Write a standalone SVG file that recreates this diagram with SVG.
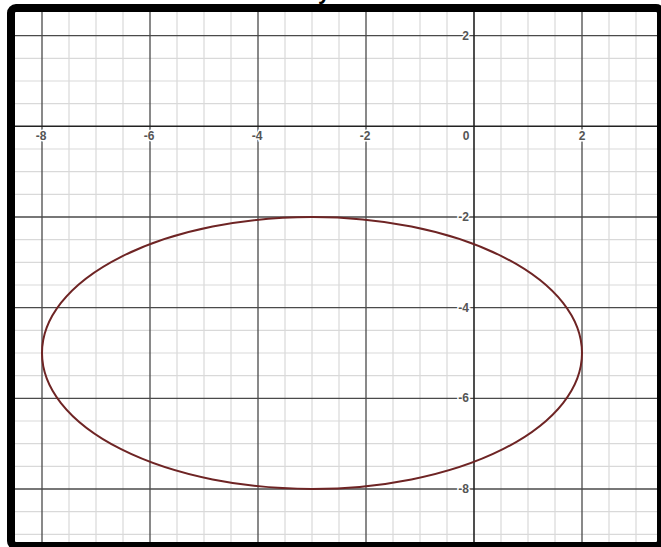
<svg xmlns="http://www.w3.org/2000/svg" width="661" height="547" viewBox="0 0 661 547">
<style>
.minor{stroke:#d9d9d9;stroke-width:1.2}
.major{stroke:#4a4a4a;stroke-width:1.3}
.axis{stroke:#222;stroke-width:1.6}
.lbl{font-family:"Liberation Sans",Arial,sans-serif;font-size:12px;font-weight:bold;fill:#555;stroke:#fff;stroke-width:3;paint-order:stroke}
</style>
<rect x="0" y="0" width="661" height="547" fill="#fff"/>
<text x="318" y="-1" font-family="Liberation Sans,Arial,sans-serif" font-weight="bold" font-size="22" fill="#000">y</text>
<g id="grid">
<g class="minor">
<line x1="69" y1="12" x2="69" y2="542"/><line x1="96" y1="12" x2="96" y2="542"/><line x1="123" y1="12" x2="123" y2="542"/>
<line x1="177" y1="12" x2="177" y2="542"/><line x1="204" y1="12" x2="204" y2="542"/><line x1="231" y1="12" x2="231" y2="542"/>
<line x1="285" y1="12" x2="285" y2="542"/><line x1="312" y1="12" x2="312" y2="542"/><line x1="339" y1="12" x2="339" y2="542"/>
<line x1="393" y1="12" x2="393" y2="542"/><line x1="420" y1="12" x2="420" y2="542"/><line x1="447" y1="12" x2="447" y2="542"/>
<line x1="501" y1="12" x2="501" y2="542"/><line x1="528" y1="12" x2="528" y2="542"/><line x1="555" y1="12" x2="555" y2="542"/>
<line x1="609" y1="12" x2="609" y2="542"/><line x1="636" y1="12" x2="636" y2="542"/>
<line x1="15" y1="58.3" x2="657" y2="58.3"/><line x1="15" y1="81" x2="657" y2="81"/><line x1="15" y1="103.7" x2="657" y2="103.7"/>
<line x1="15" y1="149" x2="657" y2="149"/><line x1="15" y1="171.7" x2="657" y2="171.7"/><line x1="15" y1="194.3" x2="657" y2="194.3"/>
<line x1="15" y1="239.7" x2="657" y2="239.7"/><line x1="15" y1="262.3" x2="657" y2="262.3"/><line x1="15" y1="285" x2="657" y2="285"/>
<line x1="15" y1="330.3" x2="657" y2="330.3"/><line x1="15" y1="353" x2="657" y2="353"/><line x1="15" y1="375.7" x2="657" y2="375.7"/>
<line x1="15" y1="421" x2="657" y2="421"/><line x1="15" y1="443.7" x2="657" y2="443.7"/><line x1="15" y1="466.3" x2="657" y2="466.3"/>
<line x1="15" y1="511.7" x2="657" y2="511.7"/><line x1="15" y1="534.3" x2="657" y2="534.3"/>
</g>
<g class="major">
<line x1="42" y1="12" x2="42" y2="542"/><line x1="150" y1="12" x2="150" y2="542"/><line x1="258" y1="12" x2="258" y2="542"/>
<line x1="366" y1="12" x2="366" y2="542"/><line x1="582" y1="12" x2="582" y2="542"/>
<line x1="15" y1="35.7" x2="657" y2="35.7"/><line x1="15" y1="217" x2="657" y2="217"/><line x1="15" y1="307.7" x2="657" y2="307.7"/>
<line x1="15" y1="398.3" x2="657" y2="398.3"/><line x1="15" y1="489" x2="657" y2="489"/>
</g>
<g class="axis">
<line x1="474" y1="12" x2="474" y2="542"/>
<line x1="15" y1="126.3" x2="657" y2="126.3"/>
</g>
</g>
<g id="labels">
<text class="lbl" x="41" y="140" text-anchor="middle">-8</text>
<text class="lbl" x="149" y="140" text-anchor="middle">-6</text>
<text class="lbl" x="257" y="140" text-anchor="middle">-4</text>
<text class="lbl" x="365" y="140" text-anchor="middle">-2</text>
<text class="lbl" x="466" y="140" text-anchor="middle">0</text>
<text class="lbl" x="582" y="140" text-anchor="middle">2</text>
<text class="lbl" x="469" y="39.7" text-anchor="end">2</text>
<text class="lbl" x="469" y="221" text-anchor="end">-2</text>
<text class="lbl" x="469" y="311.7" text-anchor="end">-4</text>
<text class="lbl" x="469" y="402.3" text-anchor="end">-6</text>
<text class="lbl" x="469" y="493" text-anchor="end">-8</text>
</g>
<g id="ellipse">
<ellipse cx="312" cy="353" rx="270" ry="136" fill="none" stroke="#6e2424" stroke-width="2"/>
</g>
<rect id="frame" x="11" y="8" width="650" height="538" rx="5" fill="none" stroke="#000" stroke-width="8"/>
</svg>
